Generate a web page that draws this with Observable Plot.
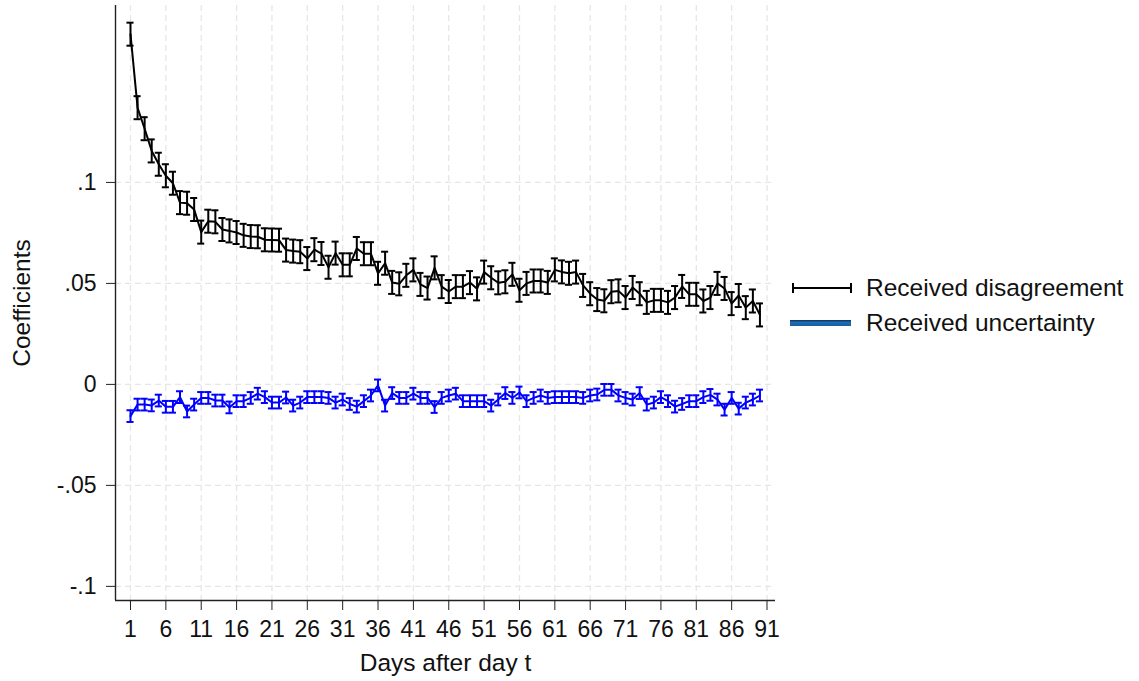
<!DOCTYPE html>
<html>
<head>
<meta charset="utf-8">
<script src="https://cdn.jsdelivr.net/npm/d3@7"></script>
<script src="https://cdn.jsdelivr.net/npm/@observablehq/plot@0.6"></script>
<style>
  html, body { margin: 0; padding: 0; background: #fff; }
  #wrap { position: relative; width: 1139px; height: 681px; font-family: "Liberation Sans", Arial, sans-serif; }
  #legend { position: absolute; left: 788px; top: 270px; font-size: 24.5px; color: #111; }
  #legend .row { display: flex; align-items: center; height: 35px; }
  #legend svg { margin-right: 12px; }
</style>
</head>
<body>
<div id="wrap">
  <div id="chart"></div>
  <div id="legend">
    <div class="row">
      <svg width="66" height="14"><line x1="5" y1="7" x2="63" y2="7" stroke="#000" stroke-width="2"/><line x1="5" y1="2" x2="5" y2="12" stroke="#000" stroke-width="2"/><line x1="63" y1="2" x2="63" y2="12" stroke="#000" stroke-width="2"/></svg>
      <span>Received disagreement</span>
    </div>
    <div class="row">
      <svg width="66" height="14"><defs><linearGradient id="g" x1="0" y1="0" x2="0" y2="1"><stop offset="0" stop-color="#0d2f5c"/><stop offset="0.4" stop-color="#1f6db3"/><stop offset="1" stop-color="#1a5f9e"/></linearGradient></defs><rect x="2" y="4" width="61" height="6" fill="url(#g)"/></svg>
      <span>Received uncertainty</span>
    </div>
  </div>
</div>
<script>
const days = d3.range(1, 91);
const xTicks = [1, 6, 11, 16, 21, 26, 31, 36, 41, 46, 51, 56, 61, 66, 71, 76, 81, 86, 91];
const yTicks = [-0.1, -0.05, 0, 0.05, 0.1];

const disagreement = [
  0.1734, 0.137, 0.1266, 0.1156, 0.109, 0.1033, 0.0996, 0.090, 0.0897, 0.0866,
  0.0754, 0.0808, 0.0805, 0.0767, 0.076, 0.0752, 0.0738, 0.0732, 0.0731, 0.0716,
  0.0715, 0.0714, 0.0665, 0.066, 0.0657, 0.0623, 0.0667, 0.0648, 0.058, 0.065,
  0.0592, 0.0592, 0.0673, 0.0647, 0.0647, 0.055, 0.060, 0.0505, 0.0498, 0.054,
  0.0567, 0.0495, 0.0477, 0.0577, 0.0484, 0.046, 0.0484, 0.0484, 0.0504, 0.0473,
  0.0556, 0.0528, 0.0503, 0.0508, 0.0545, 0.0466, 0.05, 0.0512, 0.0512, 0.0505,
  0.0567, 0.0557, 0.055, 0.0556, 0.049, 0.0449, 0.042, 0.0414, 0.0459, 0.0463,
  0.043, 0.048, 0.0449, 0.0406, 0.0416, 0.0416, 0.0406, 0.043, 0.0485, 0.0446,
  0.0446, 0.0413, 0.043, 0.050, 0.0475, 0.040, 0.044, 0.038, 0.0413, 0.0344
];
const disagreementCI = 0.0057;

const uncertainty = [
  -0.0157, -0.010, -0.010, -0.0104, -0.008, -0.0111, -0.0111, -0.0063, -0.0134, -0.010,
  -0.0067, -0.0067, -0.008, -0.008, -0.0114, -0.0083, -0.0083, -0.0067, -0.0046, -0.0063,
  -0.009, -0.009, -0.0065, -0.0105, -0.009, -0.0063, -0.0063, -0.0063, -0.0067, -0.009,
  -0.0075, -0.0097, -0.011, -0.0083, -0.0055, -0.0005, -0.0105, -0.0043, -0.0067, -0.0067,
  -0.0046, -0.0067, -0.0067, -0.0112, -0.0067, -0.0055, -0.0046, -0.0083, -0.0083, -0.0083,
  -0.0083, -0.0105, -0.0075, -0.0043, -0.0067, -0.004, -0.0083, -0.0067, -0.0055, -0.0067,
  -0.0063, -0.0063, -0.0063, -0.0063, -0.0067, -0.0055, -0.005, -0.0027, -0.0027, -0.0055,
  -0.0067, -0.0075, -0.0043, -0.010, -0.009, -0.0063, -0.0083, -0.011, -0.0097, -0.0083,
  -0.0083, -0.0063, -0.0052, -0.0075, -0.0125, -0.0067, -0.012, -0.009, -0.0075, -0.0055
];
const uncertaintyCI = 0.0029;

const dis = days.map((d, i) => ({day: d, est: disagreement[i], lo: disagreement[i] - disagreementCI, hi: disagreement[i] + disagreementCI}));
const unc = days.map((d, i) => ({day: d, est: uncertainty[i], lo: uncertainty[i] - uncertaintyCI, hi: uncertainty[i] + uncertaintyCI}));

const xDomain = [-1.12, 92.2];
const yDomain = [-0.107, 0.1876];
const fmt = v => v === 0 ? "0" : String(+v.toFixed(3)).replace("0.", ".");

function series(data, color) {
  return [
    Plot.ruleX(data, {x: "day", y1: "lo", y2: "hi", stroke: color, strokeWidth: 2}),
    Plot.ruleY(data, {y: "hi", x1: d => d.day - 0.5, x2: d => d.day + 0.5, stroke: color, strokeWidth: 2}),
    Plot.ruleY(data, {y: "lo", x1: d => d.day - 0.5, x2: d => d.day + 0.5, stroke: color, strokeWidth: 2}),
    Plot.line(data, {x: "day", y: "est", stroke: color, strokeWidth: 2})
  ];
}

const chart = Plot.plot({
  width: 1139,
  height: 681,
  marginLeft: 115,
  marginRight: 364,
  marginTop: 5,
  marginBottom: 81,
  style: {fontFamily: "'Liberation Sans', Arial, sans-serif", fontSize: "23px", color: "#111", background: "#fff"},
  x: {domain: xDomain},
  y: {domain: yDomain},
  marks: [
    Plot.gridX(xTicks, {stroke: "#e6e6e6", strokeOpacity: 1, strokeDasharray: "6,4", strokeWidth: 1.3}),
    Plot.gridY(yTicks, {stroke: "#e6e6e6", strokeOpacity: 1, strokeDasharray: "6,4", strokeWidth: 1.3}),
    Plot.ruleX([xDomain[0]], {stroke: "#222", strokeWidth: 1.4}),
    Plot.ruleY([yDomain[0]], {stroke: "#222", strokeWidth: 1.4}),
    Plot.axisX(xTicks, {tickSize: 10, tickPadding: 10, fontSize: 23, tickFormat: d => String(d), label: null, stroke: "#222", fill: "#111"}),
    Plot.axisY(yTicks, {tickSize: 9, tickPadding: 10, fontSize: 23, tickFormat: fmt, label: null, stroke: "#222", fill: "#111"}),
    ...series(dis, "#000"),
    ...series(unc, "#0000ff"),
    Plot.text(["Days after day t"], {frameAnchor: "bottom", dy: 63, lineAnchor: "middle", textAnchor: "middle", fontSize: 24.5, fill: "#111"}),
    Plot.text(["Coefficients"], {frameAnchor: "left", dx: -93, rotate: -90, textAnchor: "middle", lineAnchor: "middle", fontSize: 24.5, fill: "#111"})
  ]
});
document.getElementById("chart").appendChild(chart);
</script>
</body>
</html>
